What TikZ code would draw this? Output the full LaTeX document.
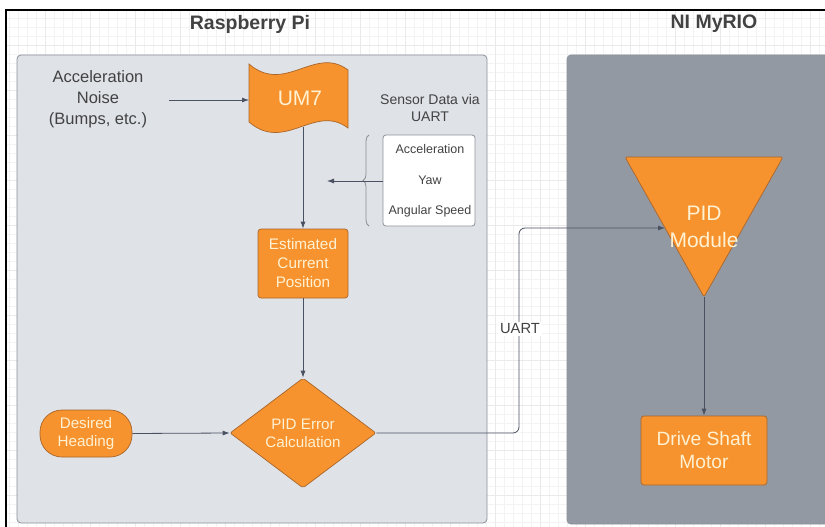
\documentclass[tikz,border=0pt]{standalone}
\usepackage{fontspec}
\setmainfont{Liberation Sans}
\usetikzlibrary{arrows.meta,decorations.pathreplacing,shapes.geometric}
\definecolor{orangefill}{HTML}{F7932E}
\definecolor{orangeline}{HTML}{A9652A}
\definecolor{creamtext}{HTML}{FFF1D2}
\definecolor{panelL}{HTML}{DFE2E7}
\definecolor{panelR}{HTML}{9399A3}
\definecolor{panelLine}{HTML}{8C9198}
\definecolor{darktext}{HTML}{424242}
\definecolor{arrowcol}{HTML}{4A5160}
\definecolor{gridminor}{HTML}{F3F3F3}
\definecolor{gridmajor}{HTML}{EAEAEA}
\begin{document}
\begin{tikzpicture}[x=1pt,y=-1pt,
  orangebox/.style={draw=orangeline, fill=orangefill, line width=0.7pt, text=creamtext, align=center, inner sep=0pt},
  flow/.style={draw=arrowcol, line width=0.8pt, -{Latex[length=7pt,width=5pt]}},
  plain/.style={text=darktext, align=center, inner sep=0pt},
  panel/.style={draw=panelLine, line width=0.8pt, rounded corners=4pt},
]
\useasboundingbox (0,0) rectangle (825,527);
\fill[white] (0,0) rectangle (825,527);
\begin{scope}
  \clip (6,10) rectangle (825,527);
  \draw[gridminor, line width=0.5pt] (0,0) grid[step=9pt] (830,530);
  \draw[gridmajor, line width=0.5pt] (0,0) grid[step=45pt] (830,530);
\end{scope}
\draw[black, line width=2pt] (6,527) -- (6,10) -- (825,10);

% titles
\node[plain, font=\bfseries\fontsize{19.5}{22}\selectfont] (titleL) at (250,24) {Raspberry Pi};
\node[plain, font=\bfseries\fontsize{19.5}{22}\selectfont] (titleR) at (714,24) {NI MyRIO};

% panels
\path[panel, fill=panelL] (17,55) rectangle (487,523);
\path[panel, fill=panelR] (567,55) rectangle (840,524);

% acceleration noise
\node[plain, font=\fontsize{16.5}{21}\selectfont] (noise) at (98,99) {Acceleration\\Noise\\(Bumps, etc.)};

% UM7 punched tape
\draw[draw=orangeline, fill=orangefill, line width=0.7pt]
  (249,64) .. controls (285,95) and (315,45) .. (348,70)
  -- (348,128) .. controls (315,103) and (285,153) .. (249,122) -- cycle;
\node[plain, text=creamtext, font=\fontsize{21}{25}\selectfont] (um7) at (300,98) {UM7};
\coordinate (um7w) at (249,100);
\coordinate (um7s) at (303,127);
\draw[flow] ([xshift=22pt]noise.east |- um7w) -- (um7w);

% sensor data
\node[plain, font=\fontsize{14}{17}\selectfont] (sdlabel) at (430,107.5) {Sensor Data via\\UART};
\node[draw=panelLine, fill=white, line width=0.8pt, rounded corners=3pt, minimum width=92pt, minimum height=91pt, inner sep=0pt] (databox) at (429,180.5) {};
\node[plain, font=\fontsize{12.5}{15}\selectfont] (acc) at (430,149) {Acceleration};
\node[plain, font=\fontsize{12.5}{15}\selectfont] (yaw) at (430,180) {Yaw};
\node[plain, font=\fontsize{12.5}{15}\selectfont] (ang) at (430,211) {Angular Speed};
\draw[panelLine, line width=0.8pt, decorate, decoration={brace, amplitude=6pt}] (369,226) -- (369,135);
\coordinate (sensin) at (327,181);
\draw[flow] (databox.west |- sensin) -- (sensin);

% estimated position
\node[orangebox, rounded corners=3pt, minimum width=90pt, minimum height=69pt, font=\fontsize{15.3}{19}\selectfont] (est) at (303,263.5) {Estimated\\Current\\Position};
\draw[flow] (um7s) -- (est.north);

% PID error
\node[orangebox, diamond, rounded corners=2pt, minimum width=146pt, minimum height=110pt, font=\fontsize{15.2}{18}\selectfont] (err) at (303,433) {PID Error\\Calculation};
\draw[flow] (est.south) -- (err.north);

% desired heading
\node[orangebox, rounded corners=22pt, minimum width=92pt, minimum height=47pt, font=\fontsize{15.2}{18}\selectfont] (desired) at (86,433.5) {Desired\\Heading};
\draw[flow] (desired.east) -- (err.west);

% PID module triangle
\draw[draw=orangeline, fill=orangefill, line width=0.7pt, rounded corners=1.5pt] (625,157) -- (783,157) -- (704,297) -- cycle;
\node[plain, text=creamtext, font=\fontsize{21}{27}\selectfont] (pidmod) at (704,226.5) {PID\\Module};
\coordinate (modin) at (665,228);
\coordinate (modapex) at (704,297);
\coordinate (uartturn) at (519,228);
\draw[flow, rounded corners=6pt] (err.east) -| (uartturn) -- (modin);
\node[plain, fill=white, inner sep=2pt, font=\fontsize{14.7}{17}\selectfont] (uart) at (520,329) {UART};

% drive shaft
\node[orangebox, rounded corners=3pt, minimum width=126pt, minimum height=69pt, font=\fontsize{19.2}{23}\selectfont] (drive) at (704,450.5) {Drive Shaft\\Motor};
\draw[flow] (modapex) -- (drive.north);
\end{tikzpicture}
\end{document}
